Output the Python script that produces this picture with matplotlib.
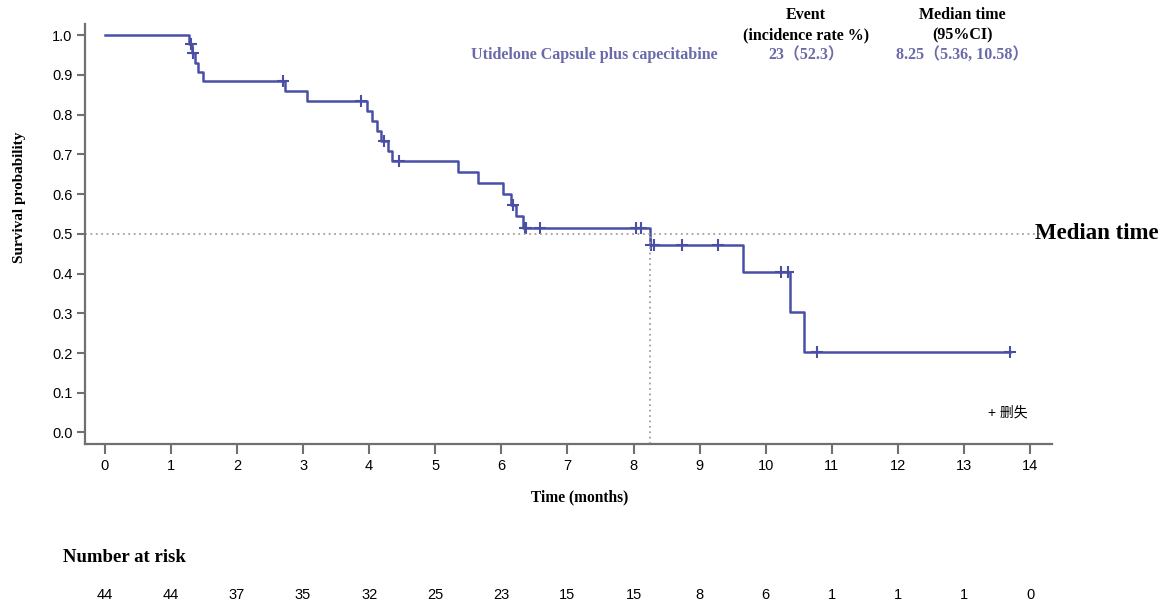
import numpy as np
import matplotlib
matplotlib.use("Agg")
import matplotlib.pyplot as plt
from matplotlib.transforms import blended_transform_factory

# Kaplan-Meier steps (time of drop, survival after drop)
step_times = [0, 1.27, 1.32, 1.36, 1.41, 1.48, 2.72, 3.06, 3.97, 4.05, 4.12, 4.18,
              4.28, 4.35, 5.35, 5.65, 6.02, 6.15, 6.22, 6.32, 8.25, 9.65, 10.36, 10.58]
step_surv = [1.0, 0.977, 0.954, 0.930, 0.907, 0.884, 0.860, 0.835, 0.810, 0.785, 0.759, 0.734,
             0.708, 0.682, 0.655, 0.627, 0.600, 0.572, 0.544, 0.515, 0.473, 0.404, 0.303, 0.202]
censor_times = [1.30, 1.34, 2.70, 3.88, 4.23, 4.45, 6.18, 6.35, 6.38, 6.59, 8.03, 8.11,
                8.27, 8.31, 8.74, 9.28, 10.23, 10.33, 10.78, 13.70]
end_time = 13.70
median_time = 8.25

risk_times = list(range(15))
at_risk = [44, 44, 37, 35, 32, 25, 23, 15, 15, 8, 6, 1, 1, 1, 0]

group = "Utidelone Capsule plus capecitabine"
events = "23（52.3）"
median_ci = "8.25（5.36, 10.58）"

line_col = "#4a4fa6"
text_col = "#6a6aaa"
spine_col = "#707070"
serif = ["Liberation Serif", "Noto Sans CJK SC"]
sans = ["Liberation Sans", "Noto Sans CJK SC"]

fig = plt.figure(figsize=(11.75, 6.07), dpi=100)
ax = fig.add_axes([0.0723, 0.2685, 0.8230, 0.6920])

# survival curve
xs = list(step_times) + [end_time]
ys = list(step_surv) + [step_surv[-1]]
ax.step(xs, ys, where="post", color=line_col, lw=1.8)

# censor marks placed on the curve
idx = np.searchsorted(step_times, censor_times, side="right") - 1
cens_y = np.array(step_surv)[idx]
ax.plot(censor_times, cens_y, "+", color=line_col, ms=9, mew=1.5, ls="none")

# median reference lines
ax.axhline(0.5, color="#a0a0a0", ls=(0, (1, 2)), lw=1.3, clip_on=False)
ax.plot([median_time, median_time], [-0.03, 0.5], color="#a0a0a0", ls=(0, (1, 2)), lw=1.3)

ax.set_xlim(-0.30, 14.33)
ax.set_ylim(-0.029, 1.028)
ax.set_xticks(range(15))
ax.set_yticks(np.arange(0, 1.01, 0.1))
ax.set_yticklabels([f"{v:.1f}" for v in np.arange(0, 1.01, 0.1)])
for s in ["top", "right"]:
    ax.spines[s].set_visible(False)
for s in ["left", "bottom"]:
    ax.spines[s].set_color(spine_col)
    ax.spines[s].set_linewidth(1.6)
ax.tick_params(axis="x", length=7, width=1.5, color=spine_col, labelsize=10.5, pad=4)
ax.tick_params(axis="y", length=6, width=1.5, color=spine_col, labelsize=10.5, pad=3)
for lab in ax.get_xticklabels() + ax.get_yticklabels():
    lab.set_family(sans)

ax.set_xlabel("Time (months)", family=serif, fontweight="bold", fontsize=11.2)
ax.xaxis.set_label_coords(0.512, -0.107)
ax.set_ylabel("Survival probability", family=serif, fontweight="bold", fontsize=11)
ax.yaxis.set_label_coords(-0.061, 0.588)

# header table
hdr = 11.5
fig.text(806 / 1175, 1 - 15 / 607, "Event", family=serif, fontweight="bold",
         fontsize=hdr, ha="center", va="center")
fig.text(806 / 1175, 1 - 35 / 607, "(incidence rate %)", family=serif, fontweight="bold",
         fontsize=hdr, ha="center", va="center")
fig.text(962 / 1175, 1 - 15 / 607, "Median time", family=serif, fontweight="bold",
         fontsize=hdr, ha="center", va="center")
fig.text(962 / 1175, 1 - 35 / 607, "(95%CI)", family=serif, fontweight="bold",
         fontsize=hdr, ha="center", va="center")
fig.text(718 / 1175, 1 - 55 / 607, group, family=serif, fontweight="bold",
         fontsize=hdr, ha="right", va="center", color=text_col)
fig.text(806 / 1175, 1 - 55 / 607, events, family=serif, fontweight="bold",
         fontsize=hdr, ha="center", va="center", color=text_col)
fig.text(962 / 1175, 1 - 55 / 607, median_ci, family=serif, fontweight="bold",
         fontsize=hdr, ha="center", va="center", color=text_col)

# median label
tr = blended_transform_factory(fig.transFigure, ax.transData)
fig.text(1035 / 1175, 0.5, "Median time", transform=tr, family=serif, fontweight="bold",
         fontsize=16.5, ha="left", va="center")

# censor legend
fig.text(988 / 1175, 1 - 413 / 607, "+ 删失", family=sans, fontsize=10,
         ha="left", va="center")

# number at risk table
fig.text(63 / 1175, 1 - 558 / 607, "Number at risk", family=serif, fontweight="bold",
         fontsize=13.5, ha="left", va="center")
tr2 = blended_transform_factory(ax.transData, fig.transFigure)
for t, n in zip(risk_times, at_risk):
    ax.text(t, 1 - 595 / 607, str(n), transform=tr2, family=["Liberation Sans Narrow"] + sans,
            fontsize=10.5, ha="center", va="center")

fig.savefig("out.png", dpi=100)
